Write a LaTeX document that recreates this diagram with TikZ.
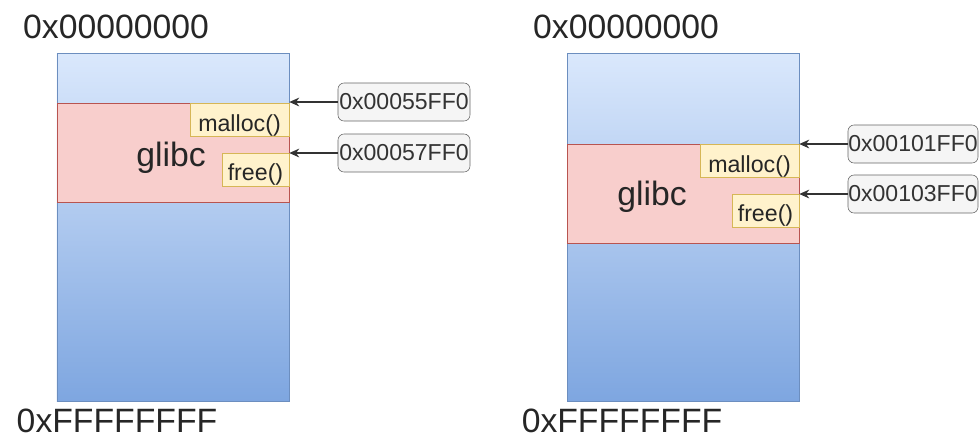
\documentclass[tikz,border=0pt]{standalone}
\usepackage{fontspec}
\setmainfont{Liberation Sans}
\usetikzlibrary{arrows.meta}

\definecolor{memtop}{HTML}{DAE8FC}
\definecolor{membot}{HTML}{7EA6E0}
\definecolor{memline}{HTML}{6C8EBF}
\definecolor{libfill}{HTML}{F8CECC}
\definecolor{libline}{HTML}{B85450}
\definecolor{fnfill}{HTML}{FFF2CC}
\definecolor{fnline}{HTML}{D6B656}
\definecolor{addrfill}{HTML}{F5F5F5}
\definecolor{addrline}{HTML}{666666}
\definecolor{addrtext}{HTML}{333333}

\begin{document}
\begin{tikzpicture}[x=0.25mm, y=-0.25mm]

\useasboundingbox (0,0) rectangle (979,439);

\tikzset{
  mem/.style = {draw=memline, top color=memtop, bottom color=membot, minimum width=58mm, minimum height=87mm, inner sep=0pt},
  lib/.style = {draw=libline, fill=libfill, minimum width=58mm, minimum height=24.75mm, inner sep=0pt, anchor=north},
  fn/.style = {draw=fnline, fill=fnfill, minimum height=8.25mm, inner sep=0pt, anchor=north east, text height=6.2mm, text depth=0.5mm, font=\fontsize{16.5}{19}\selectfont, text=black!85},
  addr/.style = {draw=addrline, fill=addrfill, rounded corners=1.5mm, minimum width=33mm, minimum height=9.5mm, inner sep=0pt, font=\fontsize{16.4}{19}\selectfont, text=addrtext},
  hex/.style = {inner sep=0pt, font=\fontsize{24}{28}\selectfont, text=black!85},
  ptr/.style = {{Stealth[length=2.5mm, width=2.2mm]}-, line width=0.35mm, draw=black!80}
}

% left map
\node[hex] (top1) at (116,27) {0x00000000};
\node[mem] (mem1) at (173,227) {};
\node[lib] (lib1) at (173,103) {};
\node[hex] (name1) at (171,158) {glibc};
\node[fn, minimum width=24.75mm] (malloc1) at (lib1.north east) {malloc()};
\node[fn, minimum width=16.75mm] (free1) at (lib1.east) {free()};
\node[hex] (bot1) at (117,421) {0xFFFFFFFF};
\node[addr] (a1) at (404,102) {0x00055FF0};
\node[addr] (a2) at (404,153) {0x00057FF0};
\draw[ptr] (mem1.east |- a1) -- (a1);
\draw[ptr] (mem1.east |- a2) -- (a2);

% right map
\node[hex] (top2) at (626,27) {0x00000000};
\node[mem] (mem2) at (683,227) {};
\node[lib] (lib2) at (683,144) {};
\node[hex] (name2) at (652,197) {glibc};
\node[fn, minimum width=24.75mm] (malloc2) at (lib2.north east) {malloc()};
\node[fn, minimum width=16.75mm] (free2) at (lib2.east) {free()};
\node[hex] (bot2) at (622,421) {0xFFFFFFFF};
\node[addr, minimum width=32.5mm] (a3) at (913,144) {0x00101FF0};
\node[addr, minimum width=32.5mm] (a4) at (913,194) {0x00103FF0};
\draw[ptr] (mem2.east |- a3) -- (a3);
\draw[ptr] (mem2.east |- a4) -- (a4);

\end{tikzpicture}
\end{document}
